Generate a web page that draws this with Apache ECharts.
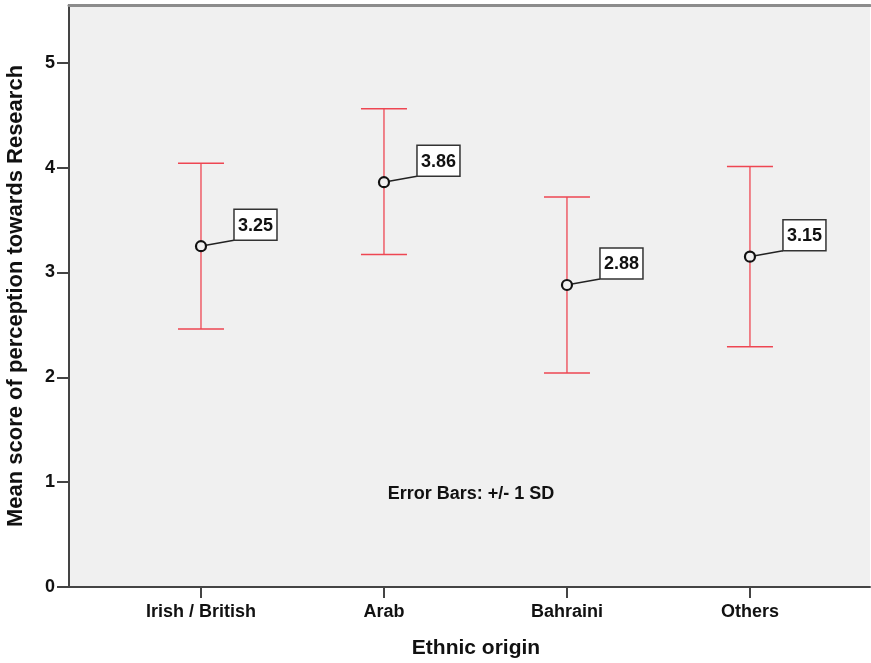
<!DOCTYPE html>
<html>
<head>
<meta charset="utf-8">
<script src="https://cdn.jsdelivr.net/npm/echarts@6/dist/echarts.min.js"></script>
<style>
  html, body { margin: 0; padding: 0; background: #fff; }
  #chart { width: 871px; height: 663px; }
</style>
</head>
<body>
<div id="chart"></div>
<script>
// data
const categories = ['Irish / British', 'Arab', 'Bahraini', 'Others'];
const means = [3.25, 3.86, 2.88, 3.15];
const lowers = [2.46, 3.17, 2.04, 2.29];
const uppers = [4.04, 4.56, 3.72, 4.01];
const yTicks = [0, 1, 2, 3, 4, 5];
const catTicks = [0, 1, 2, 3];

const FONT = 'Liberation Sans, Arial, sans-serif';
const RED = '#ee4652';

const barData = categories.map((c, i) => [i, means[i], lowers[i], uppers[i]]);

function renderBar(params, api) {
  const i = api.value(0);
  const m = api.coord([i, api.value(1)]);
  const lo = api.coord([i, api.value(2)]);
  const hi = api.coord([i, api.value(3)]);
  const cap = 23;
  const bx = m[0] + 33, by = m[1] - 37, bw = 43, bh = 31;
  return {
    type: 'group',
    children: [
      { type: 'line', shape: { x1: m[0], y1: lo[1], x2: m[0], y2: hi[1] }, style: { stroke: RED, lineWidth: 1.3 } },
      { type: 'line', shape: { x1: m[0] - cap, y1: hi[1], x2: m[0] + cap, y2: hi[1] }, style: { stroke: RED, lineWidth: 1.5 } },
      { type: 'line', shape: { x1: m[0] - cap, y1: lo[1], x2: m[0] + cap, y2: lo[1] }, style: { stroke: RED, lineWidth: 1.5 } },
      { type: 'line', shape: { x1: m[0] + 5, y1: m[1] - 1, x2: bx, y2: by + bh }, style: { stroke: '#222', lineWidth: 1.5 } },
      { type: 'circle', shape: { cx: m[0], cy: m[1], r: 5 }, style: { fill: '#f0f0f0', stroke: '#111', lineWidth: 2.2 } },
      { type: 'rect', shape: { x: bx, y: by, width: bw, height: bh }, style: { fill: '#fff', stroke: '#333', lineWidth: 1.5 } },
      { type: 'text', style: { x: bx + bw / 2, y: by + bh / 2 + 1, text: api.value(1).toFixed(2), align: 'center', verticalAlign: 'middle', font: 'bold 18px ' + FONT, fill: '#111' } }
    ]
  };
}

const chart = echarts.init(document.getElementById('chart'));
chart.setOption({
  animation: false,
  grid: {
    left: 69, right: 1, top: 5, bottom: 76,
    outerBoundsMode: 'none',
    show: true, backgroundColor: '#f0f0f0', borderWidth: 0
  },
  xAxis: [{
    type: 'value',
    min: -0.7213, max: 3.656,
    splitLine: { show: false },
    axisLine: { onZero: false, lineStyle: { color: '#444', width: 2 } },
    axisTick: { customValues: catTicks, length: 11, lineStyle: { color: '#444', width: 2 } },
    axisLabel: {
      customValues: catTicks,
      formatter: v => categories[Math.round(v)],
      margin: 16, color: '#111', fontWeight: 'bold', fontSize: 18, fontFamily: FONT
    },
    name: 'Ethnic origin',
    nameLocation: 'middle', nameGap: 51,
    nameTextStyle: { color: '#111', fontWeight: 'bold', fontSize: 21, fontFamily: FONT, padding: [0, 0, 0, 13] }
  }, {
    type: 'value', position: 'top',
    min: -0.7213, max: 3.656,
    splitLine: { show: false },
    axisLine: { onZero: false, lineStyle: { color: '#8c8c8c', width: 3 } },
    axisTick: { show: false }, axisLabel: { show: false }
  }],
  yAxis: {
    type: 'value',
    min: 0, max: 5.55,
    splitLine: { show: false },
    axisLine: { show: true, onZero: false, lineStyle: { color: '#444', width: 2 } },
    axisTick: { show: true, customValues: yTicks, length: 12, lineStyle: { color: '#444', width: 2 } },
    axisLabel: { customValues: yTicks, margin: 14, color: '#111', fontWeight: 'bold', fontSize: 18, fontFamily: FONT },
    name: 'Mean score of perception towards Research',
    nameLocation: 'middle', nameGap: 42,
    nameTextStyle: { color: '#111', fontWeight: 'bold', fontSize: 22, fontFamily: FONT }
  },
  graphic: [{
    type: 'text', x: 471, y: 494,
    style: { text: 'Error Bars: +/- 1 SD', align: 'center', verticalAlign: 'middle', font: 'bold 18px ' + FONT, fill: '#111' }
  }],
  series: [{
    type: 'custom',
    renderItem: renderBar,
    data: barData,
    encode: { x: 0, y: [1, 2, 3] },
    clip: false
  }]
});
</script>
</body>
</html>
